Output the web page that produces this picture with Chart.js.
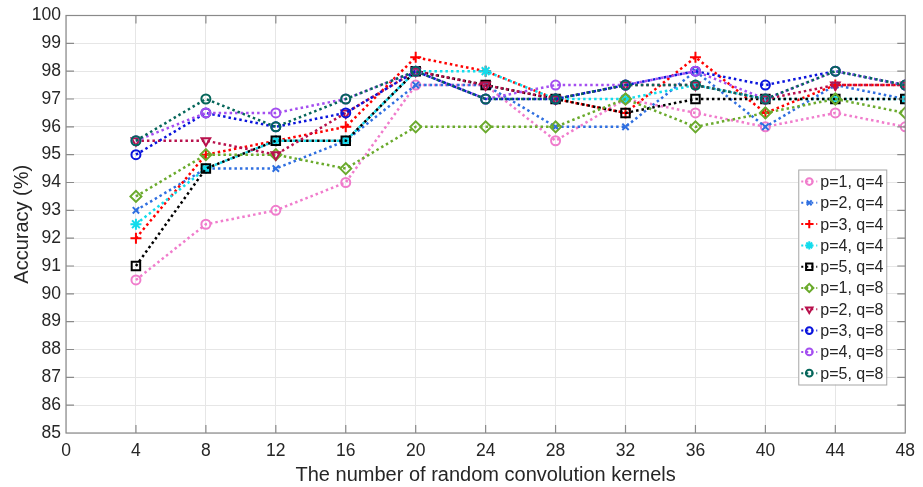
<!DOCTYPE html>
<html>
<head>
<meta charset="utf-8">
<title>Accuracy vs kernels</title>
<script src="https://cdn.jsdelivr.net/npm/chart.js@4/dist/chart.umd.min.js"></script>
<style>
  html, body { margin: 0; padding: 0; background: #ffffff; }
  #wrap { width: 923px; height: 487px; }
</style>
</head>
<body>
<div id="wrap"><canvas id="accChart" width="923" height="487"></canvas></div>
<script>
// x values (number of kernels) and accuracy for each p, q setting
const kernels = [4, 8, 12, 16, 20, 24, 28, 32, 36, 40, 44, 48];

const p1q4 = [90.5, 92.5, 93, 94, 97.5, 97.5, 95.5, 97, 96.5, 96, 96.5, 96];
const p2q4 = [93, 94.5, 94.5, 95.5, 97.5, 97.5, 96, 96, 98, 96, 97.5, 97];
const p3q4 = [92, 95, 95.5, 96, 98.5, 98, 97, 96.5, 98.5, 96.5, 97.5, 97.5];
const p4q4 = [92.5, 94.5, 95.5, 95.5, 98, 98, 97, 97, 97.5, 97, 97, 97];
const p5q4 = [91, 94.5, 95.5, 95.5, 98, 97.5, 97, 96.5, 97, 97, 97, 97];
const p1q8 = [93.5, 95, 95, 94.5, 96, 96, 96, 97, 96, 96.5, 97, 96.5];
const p2q8 = [95.5, 95.5, 95, 96.5, 98, 97.5, 97, 97.5, 97.5, 97, 97.5, 97.5];
const p3q8 = [95, 96.5, 96, 96.5, 98, 97, 97, 97.5, 98, 97.5, 98, 97.5];
const p4q8 = [95.5, 96.5, 96.5, 97, 98, 97, 97.5, 97.5, 98, 97, 98, 97.5];
const p5q8 = [95.5, 97, 96, 97, 98, 97, 97, 97.5, 97.5, 97, 98, 97.5];

const seriesNames = ["p=1, q=4", "p=2, q=4", "p=3, q=4", "p=4, q=4", "p=5, q=4",
                     "p=1, q=8", "p=2, q=8", "p=3, q=8", "p=4, q=8", "p=5, q=8"];
const seriesData = [p1q4, p2q4, p3q4, p4q4, p5q4, p1q8, p2q8, p3q8, p4q8, p5q8];

const xTicks = [0, 4, 8, 12, 16, 20, 24, 28, 32, 36, 40, 44, 48];
const yTicks = [85, 86, 87, 88, 89, 90, 91, 92, 93, 94, 95, 96, 97, 98, 99, 100];

// line colour, marker style, marker size, marker rotation
const styles = [
  ["#f07ccc", "circle", 4.5, 0],
  ["#2f6fe0", "crossRot", 4.5, 0],
  ["#ff0000", "cross", 5.5, 0],
  ["#12dcec", "star", 5.5, 0],
  ["#000000", "rect", 6, 0],
  ["#6aaa2c", "rectRot", 5.5, 0],
  ["#b8104c", "triangle", 5, 180],
  ["#0a14dc", "circle", 4.5, 0],
  ["#a44ef0", "circle", 4.5, 0],
  ["#05665a", "circle", 4.5, 0]
];

const FONT = "Arial, 'Liberation Sans', Helvetica, sans-serif";
const TEXT = "#262626";
const AXIS = "#8a8a8a";

var datasets = [];
for (let i = 0; i < seriesData.length; i++) {
  const s = styles[i];
  datasets.push({
    label: seriesNames[i],
    data: kernels.map((k, j) => ({ x: k, y: seriesData[i][j] })),
    borderColor: s[0],
    backgroundColor: "rgba(255,255,255,0)",
    borderWidth: 2.5,
    borderDash: [2.5, 3],
    pointStyle: s[1],
    pointRadius: s[2],
    pointRotation: s[3],
    pointBorderWidth: 2,
    pointBorderColor: s[0],
    pointBackgroundColor: "rgba(255,255,255,0)",
    tension: 0,
    fill: false,
    order: 10 - i
  });
}

// box round the plot with inward tick marks
const boxPlugin = {
  id: "boxTicks",
  afterDatasetsDraw(chart) {
    const ctx = chart.ctx;
    const a = chart.chartArea;
    const xs = chart.scales.x;
    const ys = chart.scales.y;
    const len = 8;
    ctx.save();
    ctx.strokeStyle = AXIS;
    ctx.lineWidth = 1.2;
    ctx.strokeRect(a.left, a.top, a.right - a.left, a.bottom - a.top);
    ctx.beginPath();
    xTicks.forEach((v) => {
      if (v === xTicks[0] || v === xTicks[xTicks.length - 1]) return;
      const px = xs.getPixelForValue(v);
      ctx.moveTo(px, a.bottom); ctx.lineTo(px, a.bottom - len);
      ctx.moveTo(px, a.top); ctx.lineTo(px, a.top + len);
    });
    yTicks.forEach((v) => {
      if (v === yTicks[0] || v === yTicks[yTicks.length - 1]) return;
      const py = ys.getPixelForValue(v);
      ctx.moveTo(a.left, py); ctx.lineTo(a.left + len, py);
      ctx.moveTo(a.right, py); ctx.lineTo(a.right - len, py);
    });
    ctx.stroke();
    ctx.restore();
  }
};

// legend box inside the plot, lower right
const legendPlugin = {
  id: "insideLegend",
  afterDraw(chart) {
    const ctx = chart.ctx;
    const a = chart.chartArea;
    const boxW = 88, rowH = 21.3;
    const boxH = rowH * datasets.length + 2;
    const left = a.right - 19 - boxW;
    const top = a.top + 154;
    ctx.save();
    ctx.fillStyle = "#ffffff";
    ctx.fillRect(left, top, boxW, boxH);
    ctx.strokeStyle = "#a6a6a6";
    ctx.lineWidth = 1;
    ctx.strokeRect(left + 0.5, top + 0.5, boxW, boxH);
    ctx.font = "16px " + FONT;
    ctx.textBaseline = "middle";
    ctx.textAlign = "left";
    for (let i = 0; i < datasets.length; i++) {
      const d = datasets[i];
      const cy = top + 12 + i * rowH;
      ctx.strokeStyle = d.borderColor;
      ctx.lineWidth = 2;
      ctx.setLineDash([2, 3]);
      ctx.beginPath();
      ctx.moveTo(left + 3, cy);
      ctx.lineTo(left + 19, cy);
      ctx.stroke();
      ctx.setLineDash([]);
      ctx.lineWidth = 2;
      ctx.fillStyle = "rgba(255,255,255,0)";
      Chart.helpers.drawPoint(ctx, {
        pointStyle: d.pointStyle,
        radius: d.pointRadius * 0.75,
        rotation: d.pointRotation,
        borderWidth: 2
      }, left + 11, cy);
      ctx.fillStyle = TEXT;
      ctx.fillText(d.label, left + 22, cy + 1);
    }
    ctx.restore();
  }
};

new Chart(document.getElementById("accChart"), {
  type: "line",
  data: { datasets: datasets },
  options: {
    responsive: false,
    animation: false,
    layout: { padding: { top: 13, right: 17, left: 0, bottom: 0 } },
    plugins: {
      legend: { display: false },
      tooltip: { enabled: false }
    },
    scales: {
      x: {
        type: "linear",
        min: 0,
        max: 48,
        afterBuildTicks: (scale) => { scale.ticks = xTicks.map((v) => ({ value: v })); },
        afterFit: (scale) => { scale.height = 54; },
        grid: { color: "#e6e6e6", lineWidth: 1, drawTicks: false },
        border: { display: false },
        ticks: {
          color: TEXT,
          padding: 8,
          maxRotation: 0,
          autoSkip: false,
          font: { family: FONT, size: 17.5 }
        },
        title: {
          display: true,
          text: "The number of random convolution kernels",
          color: TEXT,
          padding: 0,
          font: { family: FONT, size: 20, lineHeight: 1.2 }
        }
      },
      y: {
        min: 85,
        max: 100,
        afterBuildTicks: (scale) => { scale.ticks = yTicks.map((v) => ({ value: v })); },
        afterFit: (scale) => { scale.width = 66; },
        grid: { color: "#e6e6e6", lineWidth: 1, drawTicks: false },
        border: { display: false },
        ticks: {
          color: TEXT,
          padding: 5,
          autoSkip: false,
          font: { family: FONT, size: 17.5 }
        },
        title: {
          display: true,
          text: "Accuracy (%)",
          color: TEXT,
          padding: { top: 10, bottom: 0 },
          font: { family: FONT, size: 20, lineHeight: 1.2 }
        }
      }
    }
  },
  plugins: [boxPlugin, legendPlugin]
});
</script>
</body>
</html>
